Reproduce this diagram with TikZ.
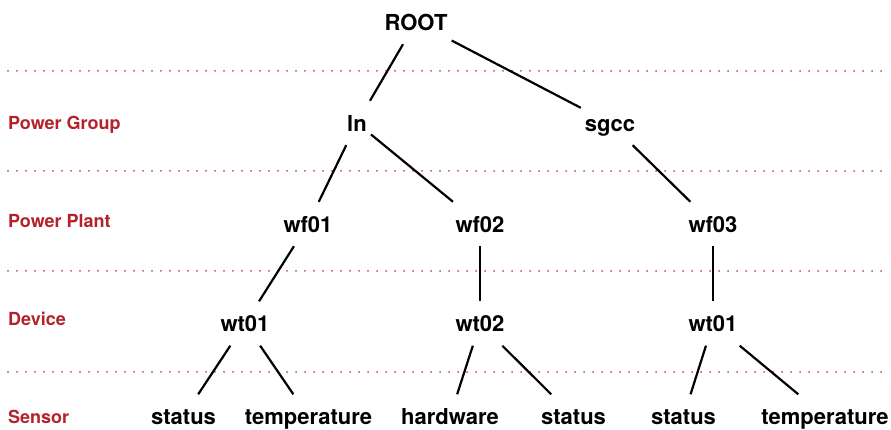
\documentclass[tikz,border=0pt]{standalone}
\usepackage{fontspec}
\setmainfont{TeX Gyre Heros}
\definecolor{lvl}{HTML}{B3222B}
\definecolor{dotred}{HTML}{CC4444}
\begin{document}
\begin{tikzpicture}[x=1pt,y=1pt,
  tn/.style={rectangle, inner xsep=4pt, inner ysep=0pt, minimum height=44pt,
    text height=17pt, text depth=0pt,
    font=\fontsize{22pt}{26pt}\selectfont\bfseries},
  lvlabel/.style={anchor=base west, inner sep=0pt, text=lvl,
    font=\fontsize{18pt}{21pt}\selectfont\bfseries},
  edge/.style={draw=black, line width=2.2pt},
  sep/.style={draw=dotred, line width=2pt, line cap=round, dash pattern=on 0pt off 9pt}]
\useasboundingbox (0,0) rectangle (891,430);
% separators
\coordinate (s1a) at (8,359); \coordinate (s1b) at (889,359);
\coordinate (s2a) at (8,259); \coordinate (s2b) at (889,259);
\coordinate (s3a) at (8,159); \coordinate (s3b) at (889,159);
\coordinate (s4a) at (8,58);  \coordinate (s4b) at (889,58);
\draw[sep] (s1a) -- (s1b);
\draw[sep] (s2a) -- (s2b);
\draw[sep] (s3a) -- (s3b);
\draw[sep] (s4a) -- (s4b);
% level labels
\node[lvlabel] (lg) at (8,300) {Power Group};
\node[lvlabel] (lp) at (8,202) {Power Plant};
\node[lvlabel] (ld) at (8,104) {Device};
\node[lvlabel] (ls) at (8,6) {Sensor};
% tree nodes
\node[tn] (root) at (416,408) {ROOT};
\node[tn] (ln) at (357,307) {ln};
\node[tn] (sgcc) at (610,307) {sgcc};
\node[tn] (wf01) at (308,206) {wf01};
\node[tn] (wf02) at (480,206) {wf02};
\node[tn] (wf03) at (713,206) {wf03};
\node[tn] (wt01) at (245,106.5) {wt01};
\node[tn] (wt02) at (480,106.5) {wt02};
\node[tn] (wt01r) at (713,106.5) {wt01};
\node[tn] (s1) at (183.5,13.5) {status};
\node[tn] (t1) at (308.5,13.5) {temperature};
\node[tn] (h2) at (450,13.5) {hardware};
\node[tn] (s2) at (573.5,13.5) {status};
\node[tn] (s3) at (683.5,13.5) {status};
\node[tn] (t3) at (825,13.5) {temperature};
% edges
\draw[edge] (root) -- (ln);
\draw[edge] (root) -- (sgcc);
\draw[edge] (ln) -- (wf01);
\draw[edge] (ln) -- (wf02);
\draw[edge] (sgcc) -- (wf03);
\draw[edge] (wf01) -- (wt01);
\draw[edge] (wf02) -- (wt02);
\draw[edge] (wf03) -- (wt01r);
\draw[edge] (wt01) -- (s1);
\draw[edge] (wt01) -- (t1);
\draw[edge] (wt02) -- (h2);
\draw[edge] (wt02) -- (s2);
\draw[edge] (wt01r) -- (s3);
\draw[edge] (wt01r) -- (t3);
\end{tikzpicture}
\end{document}
